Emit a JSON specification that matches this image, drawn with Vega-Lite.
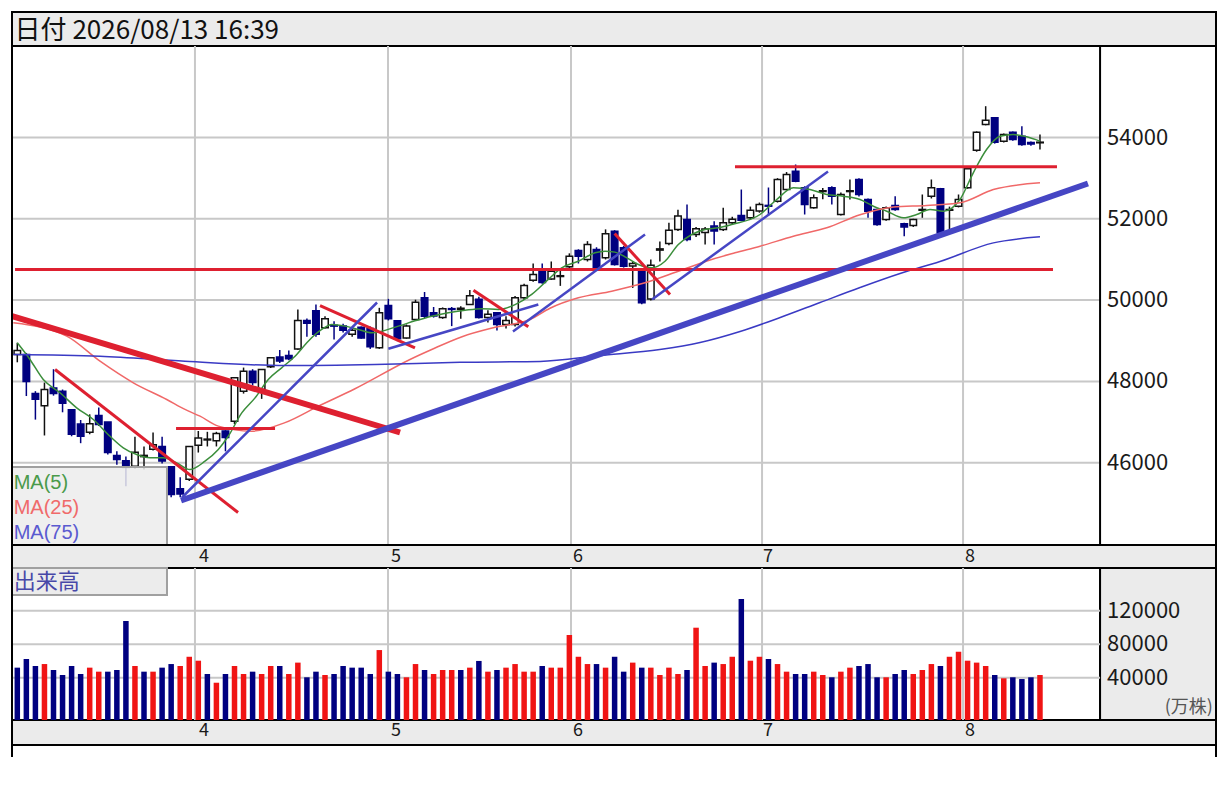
{
  "$schema": "https://vega.github.io/schema/vega-lite/v6.json",
  "description": "Daily candlestick chart with MA(5/25/75), hand-drawn trend lines and volume panel.",
  "width": 1204,
  "height": 745,
  "autosize": {"type": "none"},
  "padding": {"left": 12, "top": 12, "right": 12, "bottom": 30},
  "background": "white",
  "config": {"view": {"stroke": null}, "font": "Noto Sans CJK JP", "scale": {"continuousPadding": 0}},
  "datasets": {
    "bars": [
      {"i":0,"o":48660,"h":48950,"l":48470,"c":48760,"v":52000,"d":"dn"},
      {"i":1,"o":48660,"h":48700,"l":47640,"c":48000,"v":62300,"d":"dn"},
      {"i":2,"o":47700,"h":47760,"l":47060,"c":47560,"v":54000,"d":"dn"},
      {"i":3,"o":47400,"h":47970,"l":46670,"c":47800,"v":56300,"d":"up"},
      {"i":4,"o":47840,"h":48300,"l":47650,"c":47700,"v":49200,"d":"dn"},
      {"i":5,"o":47760,"h":47800,"l":47240,"c":47460,"v":43200,"d":"dn"},
      {"i":6,"o":47300,"h":47300,"l":46650,"c":46700,"v":54000,"d":"dn"},
      {"i":7,"o":46950,"h":47050,"l":46480,"c":46650,"v":44400,"d":"dn"},
      {"i":8,"o":46750,"h":47190,"l":46700,"c":46960,"v":52000,"d":"up"},
      {"i":9,"o":47160,"h":47360,"l":46900,"c":46940,"v":47200,"d":"up"},
      {"i":10,"o":47000,"h":47000,"l":46200,"c":46250,"v":47200,"d":"dn"},
      {"i":11,"o":46180,"h":46280,"l":45950,"c":46080,"v":49200,"d":"dn"},
      {"i":12,"o":46050,"h":46150,"l":45420,"c":45880,"v":107700,"d":"dn"},
      {"i":13,"o":45910,"h":46640,"l":45850,"c":46260,"v":54000,"d":"up"},
      {"i":14,"o":46150,"h":46400,"l":45830,"c":46180,"v":47200,"d":"dn"},
      {"i":15,"o":46330,"h":46740,"l":46300,"c":46440,"v":47200,"d":"up"},
      {"i":16,"o":46400,"h":46640,"l":45980,"c":46040,"v":52000,"d":"dn"},
      {"i":17,"o":45900,"h":45900,"l":45150,"c":45220,"v":56300,"d":"dn"},
      {"i":18,"o":45360,"h":45640,"l":45150,"c":45230,"v":54000,"d":"up"},
      {"i":19,"o":45590,"h":46400,"l":45550,"c":46400,"v":65000,"d":"up"},
      {"i":20,"o":46430,"h":46780,"l":46250,"c":46610,"v":60300,"d":"up"},
      {"i":21,"o":46560,"h":46760,"l":46400,"c":46580,"v":44400,"d":"dn"},
      {"i":22,"o":46540,"h":46760,"l":46400,"c":46720,"v":34000,"d":"up"},
      {"i":23,"o":46780,"h":46800,"l":46280,"c":46620,"v":44400,"d":"dn"},
      {"i":24,"o":47020,"h":48100,"l":46950,"c":48090,"v":54000,"d":"up"},
      {"i":25,"o":47760,"h":48340,"l":47700,"c":48250,"v":44400,"d":"up"},
      {"i":26,"o":48250,"h":48300,"l":47900,"c":47970,"v":47200,"d":"dn"},
      {"i":27,"o":47800,"h":48300,"l":47570,"c":48290,"v":44400,"d":"up"},
      {"i":28,"o":48360,"h":48600,"l":48330,"c":48580,"v":54000,"d":"up"},
      {"i":29,"o":48600,"h":48770,"l":48450,"c":48500,"v":54000,"d":"dn"},
      {"i":30,"o":48640,"h":48760,"l":48520,"c":48560,"v":44400,"d":"up"},
      {"i":31,"o":48800,"h":49770,"l":48780,"c":49500,"v":58000,"d":"up"},
      {"i":32,"o":49500,"h":49550,"l":49100,"c":49430,"v":40500,"d":"dn"},
      {"i":33,"o":49740,"h":49890,"l":49100,"c":49160,"v":47200,"d":"dn"},
      {"i":34,"o":49320,"h":49600,"l":49300,"c":49540,"v":43200,"d":"up"},
      {"i":35,"o":49380,"h":49480,"l":49030,"c":49360,"v":44400,"d":"dn"},
      {"i":36,"o":49360,"h":49420,"l":49200,"c":49260,"v":54000,"d":"dn"},
      {"i":37,"o":49160,"h":49300,"l":49100,"c":49260,"v":52000,"d":"dn"},
      {"i":38,"o":49330,"h":49350,"l":49050,"c":49070,"v":52000,"d":"dn"},
      {"i":39,"o":49300,"h":49350,"l":48800,"c":48850,"v":44400,"d":"dn"},
      {"i":40,"o":48830,"h":49810,"l":48800,"c":49690,"v":73000,"d":"up"},
      {"i":41,"o":49870,"h":50030,"l":49500,"c":49540,"v":47200,"d":"dn"},
      {"i":42,"o":49490,"h":49500,"l":48990,"c":49050,"v":44400,"d":"dn"},
      {"i":43,"o":49070,"h":49400,"l":49050,"c":49360,"v":40500,"d":"up"},
      {"i":44,"o":49520,"h":50010,"l":49500,"c":49950,"v":56300,"d":"up"},
      {"i":45,"o":50060,"h":50200,"l":49560,"c":49600,"v":49200,"d":"dn"},
      {"i":46,"o":49690,"h":49830,"l":49570,"c":49610,"v":44400,"d":"up"},
      {"i":47,"o":49570,"h":49820,"l":49540,"c":49790,"v":49200,"d":"up"},
      {"i":48,"o":49790,"h":49830,"l":49360,"c":49770,"v":49200,"d":"up"},
      {"i":49,"o":49770,"h":49850,"l":49540,"c":49800,"v":49200,"d":"dn"},
      {"i":50,"o":49890,"h":50250,"l":49880,"c":50110,"v":52000,"d":"up"},
      {"i":51,"o":50020,"h":50080,"l":49550,"c":49570,"v":60000,"d":"dn"},
      {"i":52,"o":49570,"h":49750,"l":49450,"c":49650,"v":47200,"d":"up"},
      {"i":53,"o":49690,"h":49700,"l":49250,"c":49400,"v":49200,"d":"dn"},
      {"i":54,"o":49400,"h":49600,"l":49300,"c":49500,"v":52000,"d":"up"},
      {"i":55,"o":49400,"h":50100,"l":49350,"c":50060,"v":56300,"d":"up"},
      {"i":56,"o":50060,"h":50400,"l":50000,"c":50360,"v":47200,"d":"up"},
      {"i":57,"o":50490,"h":50900,"l":50450,"c":50630,"v":47200,"d":"up"},
      {"i":58,"o":50750,"h":50900,"l":50400,"c":50430,"v":54000,"d":"dn"},
      {"i":59,"o":50520,"h":50950,"l":50500,"c":50710,"v":52000,"d":"up"},
      {"i":60,"o":50580,"h":50760,"l":50350,"c":50600,"v":52000,"d":"up"},
      {"i":61,"o":50820,"h":51150,"l":50780,"c":51080,"v":91000,"d":"up"},
      {"i":62,"o":51220,"h":51250,"l":50900,"c":51080,"v":65000,"d":"up"},
      {"i":63,"o":51000,"h":51450,"l":50950,"c":51370,"v":56300,"d":"up"},
      {"i":64,"o":51245,"h":51300,"l":50750,"c":50795,"v":56300,"d":"dn"},
      {"i":65,"o":51040,"h":51740,"l":51000,"c":51630,"v":52000,"d":"up"},
      {"i":66,"o":51695,"h":51720,"l":50850,"c":50876,"v":65000,"d":"dn"},
      {"i":67,"o":51285,"h":51330,"l":50800,"c":50835,"v":47200,"d":"dn"},
      {"i":68,"o":50840,"h":50950,"l":50300,"c":50900,"v":58000,"d":"up"},
      {"i":69,"o":50710,"h":50750,"l":49900,"c":49933,"v":52000,"d":"dn"},
      {"i":70,"o":50030,"h":51000,"l":49990,"c":50860,"v":52000,"d":"up"},
      {"i":71,"o":51230,"h":51440,"l":50950,"c":51260,"v":43200,"d":"up"},
      {"i":72,"o":51392,"h":51900,"l":51350,"c":51720,"v":52000,"d":"up"},
      {"i":73,"o":51737,"h":52220,"l":51700,"c":52070,"v":44400,"d":"up"},
      {"i":74,"o":51983,"h":52350,"l":51450,"c":51490,"v":49200,"d":"dn"},
      {"i":75,"o":51614,"h":51800,"l":51550,"c":51754,"v":99700,"d":"up"},
      {"i":76,"o":51660,"h":51800,"l":51370,"c":51750,"v":54000,"d":"up"},
      {"i":77,"o":51820,"h":51940,"l":51370,"c":51700,"v":58000,"d":"dn"},
      {"i":78,"o":51737,"h":52270,"l":51700,"c":51900,"v":56300,"d":"up"},
      {"i":79,"o":51900,"h":52050,"l":51850,"c":51990,"v":65000,"d":"up"},
      {"i":80,"o":52080,"h":52720,"l":51940,"c":51965,"v":134000,"d":"dn"},
      {"i":81,"o":52025,"h":52300,"l":51980,"c":52212,"v":60300,"d":"up"},
      {"i":82,"o":52190,"h":52400,"l":52150,"c":52350,"v":65000,"d":"up"},
      {"i":83,"o":52330,"h":52770,"l":52080,"c":52310,"v":62300,"d":"dn"},
      {"i":84,"o":52433,"h":53000,"l":52400,"c":52967,"v":56300,"d":"up"},
      {"i":85,"o":52720,"h":53150,"l":52700,"c":53090,"v":47200,"d":"up"},
      {"i":86,"o":53170,"h":53336,"l":52900,"c":52925,"v":44400,"d":"dn"},
      {"i":87,"o":52763,"h":52800,"l":52106,"c":52350,"v":44400,"d":"dn"},
      {"i":88,"o":52270,"h":52600,"l":52250,"c":52516,"v":47200,"d":"up"},
      {"i":89,"o":52670,"h":52760,"l":52480,"c":52690,"v":43200,"d":"up"},
      {"i":90,"o":52763,"h":52800,"l":52350,"c":52556,"v":40500,"d":"dn"},
      {"i":91,"o":52106,"h":52650,"l":52080,"c":52598,"v":47200,"d":"up"},
      {"i":92,"o":52670,"h":52967,"l":52475,"c":52690,"v":52000,"d":"up"},
      {"i":93,"o":52967,"h":53000,"l":52550,"c":52598,"v":54000,"d":"dn"},
      {"i":94,"o":52475,"h":52500,"l":52025,"c":52187,"v":56300,"d":"dn"},
      {"i":95,"o":52229,"h":52250,"l":51830,"c":51860,"v":40500,"d":"dn"},
      {"i":96,"o":51983,"h":52300,"l":51950,"c":52270,"v":40500,"d":"up"},
      {"i":97,"o":52327,"h":52556,"l":52200,"c":52229,"v":44400,"d":"dn"},
      {"i":98,"o":51880,"h":51900,"l":51570,"c":51800,"v":49200,"d":"dn"},
      {"i":99,"o":51835,"h":52000,"l":51800,"c":51983,"v":44400,"d":"up"},
      {"i":100,"o":52210,"h":52598,"l":52025,"c":52230,"v":49200,"d":"up"},
      {"i":101,"o":52556,"h":52967,"l":52500,"c":52763,"v":56300,"d":"up"},
      {"i":102,"o":52738,"h":52760,"l":51600,"c":51656,"v":54000,"d":"dn"},
      {"i":103,"o":52210,"h":52300,"l":51737,"c":52230,"v":65000,"d":"up"},
      {"i":104,"o":52310,"h":52598,"l":52280,"c":52475,"v":71000,"d":"up"},
      {"i":105,"o":52763,"h":53250,"l":52740,"c":53230,"v":60300,"d":"up"},
      {"i":106,"o":53688,"h":54150,"l":53650,"c":54130,"v":58000,"d":"up"},
      {"i":107,"o":54320,"h":54770,"l":54300,"c":54425,"v":54000,"d":"up"},
      {"i":108,"o":54485,"h":54500,"l":53850,"c":53885,"v":43200,"d":"dn"},
      {"i":109,"o":53910,"h":54100,"l":53880,"c":54074,"v":39300,"d":"up"},
      {"i":110,"o":54130,"h":54150,"l":53920,"c":53950,"v":40500,"d":"dn"},
      {"i":111,"o":54032,"h":54278,"l":53800,"c":53828,"v":38400,"d":"dn"},
      {"i":112,"o":53880,"h":53900,"l":53800,"c":53840,"v":40500,"d":"dn"},
      {"i":113,"o":53870,"h":54074,"l":53705,"c":53885,"v":43200,"d":"up"}
    ],
    "ma": [
      {"s":"MA5","i":0,"p":48950},{"s":"MA5","i":1.4,"p":48540},{"s":"MA5","i":2.87,"p":48047},
      {"s":"MA5","i":4.72,"p":47720},{"s":"MA5","i":6.56,"p":47350},{"s":"MA5","i":8.4,"p":47063},
      {"s":"MA5","i":10.24,"p":46650},{"s":"MA5","i":11.71,"p":46366},{"s":"MA5","i":13.19,"p":46200},
      {"s":"MA5","i":14.66,"p":46120},{"s":"MA5","i":16.1,"p":46120},{"s":"MA5","i":17.61,"p":45997},
      {"s":"MA5","i":19.08,"p":45833},{"s":"MA5","i":20.74,"p":46037},{"s":"MA5","i":22.21,"p":46325},
      {"s":"MA5","i":23.31,"p":46650},{"s":"MA5","i":24.8,"p":47225},{"s":"MA5","i":26.27,"p":47595},
      {"s":"MA5","i":27.73,"p":48047},{"s":"MA5","i":29.21,"p":48334},{"s":"MA5","i":30.69,"p":48620},
      {"s":"MA5","i":32.15,"p":48990},{"s":"MA5","i":33.64,"p":49277},{"s":"MA5","i":34.74,"p":49400},
      {"s":"MA5","i":36.21,"p":49360},{"s":"MA5","i":37.68,"p":49277},{"s":"MA5","i":39.16,"p":49196},
      {"s":"MA5","i":42.1,"p":49360},{"s":"MA5","i":43.94,"p":49490},{"s":"MA5","i":45.79,"p":49605},
      {"s":"MA5","i":47.62,"p":49690},{"s":"MA5","i":49.47,"p":49750},{"s":"MA5","i":51.31,"p":49790},
      {"s":"MA5","i":53.15,"p":49770},{"s":"MA5","i":55.0,"p":49890},{"s":"MA5","i":56.84,"p":50140},
      {"s":"MA5","i":58.67,"p":50510},{"s":"MA5","i":60.15,"p":50795},{"s":"MA5","i":61.99,"p":50957},
      {"s":"MA5","i":63.83,"p":51163},{"s":"MA5","i":64.94,"p":51203},{"s":"MA5","i":66.04,"p":51180},
      {"s":"MA5","i":67.15,"p":51065},{"s":"MA5","i":68.62,"p":50876},{"s":"MA5","i":70.1,"p":50795},
      {"s":"MA5","i":71.57,"p":50957},{"s":"MA5","i":73.04,"p":51368},{"s":"MA5","i":74.52,"p":51614},
      {"s":"MA5","i":75.99,"p":51737},{"s":"MA5","i":77.46,"p":51778},{"s":"MA5","i":78.94,"p":51860},
      {"s":"MA5","i":82.07,"p":52106},{"s":"MA5","i":83.91,"p":52475},{"s":"MA5","i":85.75,"p":52763},
      {"s":"MA5","i":87.59,"p":52720},{"s":"MA5","i":89.44,"p":52598},{"s":"MA5","i":91.27,"p":52556},
      {"s":"MA5","i":93.12,"p":52475},{"s":"MA5","i":94.59,"p":52310},{"s":"MA5","i":96.07,"p":52187},
      {"s":"MA5","i":97.9,"p":52025},{"s":"MA5","i":99.38,"p":52106},{"s":"MA5","i":100.85,"p":52229},
      {"s":"MA5","i":102.32,"p":52187},{"s":"MA5","i":104.16,"p":52475},{"s":"MA5","i":105.63,"p":53131},
      {"s":"MA5","i":107.1,"p":53705},{"s":"MA5","i":108.59,"p":54032},{"s":"MA5","i":110.06,"p":54074},
      {"s":"MA5","i":111.54,"p":54017},{"s":"MA5","i":113.0,"p":53910},
      {"s":"MA25","i":-0.44,"p":49440},{"s":"MA25","i":5.46,"p":49113},{"s":"MA25","i":9.14,"p":48497},
      {"s":"MA25","i":12.82,"p":47966},{"s":"MA25","i":16.51,"p":47555},{"s":"MA25","i":18.53,"p":47310},
      {"s":"MA25","i":20.19,"p":47144},{"s":"MA25","i":22.21,"p":46900},{"s":"MA25","i":25.9,"p":46776},
      {"s":"MA25","i":29.58,"p":46985},{"s":"MA25","i":33.26,"p":47390},{"s":"MA25","i":37.31,"p":47820},
      {"s":"MA25","i":43.39,"p":48540},{"s":"MA25","i":45.79,"p":48785},{"s":"MA25","i":49.14,"p":49100},
      {"s":"MA25","i":52.79,"p":49330},{"s":"MA25","i":56.65,"p":49523},{"s":"MA25","i":58.86,"p":49800},
      {"s":"MA25","i":61.99,"p":50057},{"s":"MA25","i":65.68,"p":50220},{"s":"MA25","i":69.36,"p":50425},
      {"s":"MA25","i":73.04,"p":50710},{"s":"MA25","i":76.73,"p":51000},{"s":"MA25","i":79.3,"p":51163},
      {"s":"MA25","i":82.07,"p":51326},{"s":"MA25","i":85.75,"p":51572},{"s":"MA25","i":89.44,"p":51778},
      {"s":"MA25","i":93.12,"p":52100},{"s":"MA25","i":96.8,"p":52290},{"s":"MA25","i":100.49,"p":52327},
      {"s":"MA25","i":104.16,"p":52393},{"s":"MA25","i":107.85,"p":52720},{"s":"MA25","i":113.0,"p":52886},
      {"s":"MA75","i":-0.44,"p":48662},{"s":"MA75","i":9.14,"p":48620},{"s":"MA75","i":18.53,"p":48497},
      {"s":"MA75","i":29.58,"p":48390},{"s":"MA75","i":39.52,"p":48416},{"s":"MA75","i":48.92,"p":48470},
      {"s":"MA75","i":57.76,"p":48490},{"s":"MA75","i":64.39,"p":48637},{"s":"MA75","i":71.0,"p":48785},
      {"s":"MA75","i":75.44,"p":48957},{"s":"MA75","i":79.86,"p":49228},{"s":"MA75","i":84.3,"p":49572},
      {"s":"MA75","i":88.7,"p":49941},{"s":"MA75","i":93.12,"p":50310},{"s":"MA75","i":97.54,"p":50655},
      {"s":"MA75","i":101.95,"p":50950},{"s":"MA75","i":107.85,"p":51408},{"s":"MA75","i":113.0,"p":51557}
    ],
    "trend": [
      {"id":"r1","k":"rh","i":-0.586,"p":49604},{"id":"r1","k":"rh","i":42.29,"p":46743},
      {"id":"r2","k":"rl","i":4.17,"p":48293},{"id":"r2","k":"rl","i":24.39,"p":44775},
      {"id":"r3","k":"rl","i":17.54,"p":46841},{"id":"r3","k":"rl","i":28.48,"p":46841},
      {"id":"r4","k":"rl","i":33.45,"p":49867},{"id":"r4","k":"rl","i":43.94,"p":48827},
      {"id":"r5","k":"rl","i":50.4,"p":50244},{"id":"r5","k":"rl","i":56.46,"p":49343},
      {"id":"r6","k":"rl","i":66.0,"p":51638},{"id":"r6","k":"rl","i":72.12,"p":50138},
      {"id":"r7","k":"rl","i":79.3,"p":53279},{"id":"r7","k":"rl","i":114.88,"p":53279},
      {"id":"r8","k":"rl","i":-0.25,"p":50753},{"id":"r8","k":"rl","i":114.44,"p":50753},
      {"id":"b1","k":"bh","i":18.09,"p":45070},{"id":"b1","k":"bh","i":118.3,"p":52868},
      {"id":"b2","k":"bl","i":18.2,"p":45144},{"id":"b2","k":"bl","i":39.75,"p":49941},
      {"id":"b3","k":"bl","i":41.0,"p":48802},{"id":"b3","k":"bl","i":57.57,"p":49892},
      {"id":"b4","k":"bl","i":54.77,"p":49228},{"id":"b4","k":"bl","i":69.36,"p":51614},
      {"id":"b5","k":"bl","i":70.13,"p":50015},{"id":"b5","k":"bl","i":89.58,"p":53164}
    ],
    "months": [
      {"m":"4","g":19.63,"lx":20.63},
      {"m":"5","g":40.96,"lx":41.85},
      {"m":"6","g":61.18,"lx":61.96},
      {"m":"7","g":82.29,"lx":82.95},
      {"m":"8","g":104.5,"lx":105.27}
    ],
    "pticks": [{"p": 46000}, {"p": 48000}, {"p": 50000}, {"p": 52000}, {"p": 54000}],
    "vticks": [{"v": 40000}, {"v": 80000}, {"v": 120000}]
  },
  "resolve": {"scale": {"y": "independent", "color": "independent"}},
  "layer": [
    {
      "layer": [
        {
          "data": {"values": [{}]},
          "mark": {"type": "rect", "fill": "#ebebeb", "stroke": "#000000", "strokeWidth": 2},
          "encoding": {
            "x": {"datum": -0.586, "type": "quantitative", "scale": {"domain": [-0.586, 132.45], "nice": false, "zero": false, "padding": 0}, "axis": null},
            "x2": {"datum": 132.45},
            "y": {"datum": 57087, "type": "quantitative", "scale": {"domain": [43975.5, 56250.9], "range": [533, 34], "nice": false, "zero": false}, "axis": null},
            "y2": {"datum": 56251}
          }
        },
        {
          "data": {"values": [{}]},
          "mark": {"type": "rect", "fill": "#ffffff", "stroke": "#000000", "strokeWidth": 2},
          "encoding": {
            "x": {"datum": -0.586, "type": "quantitative", "scale": {"domain": [-0.586, 132.45], "nice": false, "zero": false, "padding": 0}, "axis": null},
            "x2": {"datum": 132.45},
            "y": {"datum": 56251, "type": "quantitative", "scale": {"domain": [43975.5, 56250.9], "range": [533, 34], "nice": false, "zero": false}, "axis": null},
            "y2": {"datum": 43975.5}
          }
        },
        {
          "data": {"name": "pticks"},
          "mark": {"type": "rule", "color": "#c8c8c8", "strokeWidth": 2},
          "encoding": {
            "x": {"datum": -0.586, "type": "quantitative", "scale": {"domain": [-0.586, 132.45], "nice": false, "zero": false, "padding": 0}, "axis": null},
            "x2": {"datum": 119.64},
            "y": {"field": "p", "type": "quantitative", "scale": {"domain": [43975.5, 56250.9], "range": [533, 34], "nice": false, "zero": false}, "axis": null}
          }
        },
        {
          "data": {"name": "months"},
          "mark": {"type": "rule", "color": "#c8c8c8", "strokeWidth": 2},
          "encoding": {
            "x": {"field": "g", "type": "quantitative", "scale": {"domain": [-0.586, 132.45], "nice": false, "zero": false, "padding": 0}, "axis": null},
            "y": {"datum": 56251, "type": "quantitative", "scale": {"domain": [43975.5, 56250.9], "range": [533, 34], "nice": false, "zero": false}, "axis": null},
            "y2": {"datum": 43975.5}
          }
        },
        {
          "data": {"name": "bars"},
          "mark": {"type": "rule", "strokeWidth": 1.5},
          "encoding": {
            "x": {"field": "i", "type": "quantitative", "scale": {"domain": [-0.586, 132.45], "nice": false, "zero": false, "padding": 0}, "axis": null},
            "y": {"field": "l", "type": "quantitative", "scale": {"domain": [43975.5, 56250.9], "range": [533, 34], "nice": false, "zero": false}, "axis": null},
            "y2": {"field": "h"},
            "color": {"condition": {"test": "datum.c >= datum.o", "value": "#111111"}, "value": "#000080"}
          }
        },
        {
          "data": {"name": "bars"},
          "mark": {"type": "bar", "size": 6.5, "strokeWidth": 1.5},
          "encoding": {
            "x": {"field": "i", "type": "quantitative", "scale": {"domain": [-0.586, 132.45], "nice": false, "zero": false, "padding": 0}, "axis": null},
            "y": {"field": "o", "type": "quantitative", "scale": {"domain": [43975.5, 56250.9], "range": [533, 34], "nice": false, "zero": false}, "axis": null},
            "y2": {"field": "c"},
            "fill": {"condition": {"test": "datum.c >= datum.o", "value": "#ffffff"}, "value": "#000080"},
            "stroke": {"condition": {"test": "datum.c >= datum.o", "value": "#111111"}, "value": "#000080"}
          }
        },
        {
          "data": {"name": "ma"},
          "mark": {"type": "line", "strokeWidth": 1.5, "interpolate": "monotone"},
          "encoding": {
            "x": {"field": "i", "type": "quantitative", "scale": {"domain": [-0.586, 132.45], "nice": false, "zero": false, "padding": 0}, "axis": null},
            "y": {"field": "p", "type": "quantitative", "scale": {"domain": [43975.5, 56250.9], "range": [533, 34], "nice": false, "zero": false}, "axis": null},
            "color": {"field": "s", "type": "nominal", "scale": {"domain": ["MA5", "MA25", "MA75"], "range": ["#3b8e3b", "#f06868", "#3a3ac4"]}, "legend": null}
          }
        },
        {
          "data": {"name": "trend"},
          "transform": [{"filter": {"field": "k", "equal": "rh"}}],
          "mark": {"type": "line", "color": "#de2030", "strokeWidth": 6},
          "encoding": {
            "x": {"field": "i", "type": "quantitative", "scale": {"domain": [-0.586, 132.45], "nice": false, "zero": false, "padding": 0}, "axis": null},
            "y": {"field": "p", "type": "quantitative", "scale": {"domain": [43975.5, 56250.9], "range": [533, 34], "nice": false, "zero": false}, "axis": null},
            "detail": {"field": "id"}
          }
        },
        {
          "data": {"name": "trend"},
          "transform": [{"filter": {"field": "k", "equal": "rl"}}],
          "mark": {"type": "line", "color": "#de2030", "strokeWidth": 3},
          "encoding": {
            "x": {"field": "i", "type": "quantitative", "scale": {"domain": [-0.586, 132.45], "nice": false, "zero": false, "padding": 0}, "axis": null},
            "y": {"field": "p", "type": "quantitative", "scale": {"domain": [43975.5, 56250.9], "range": [533, 34], "nice": false, "zero": false}, "axis": null},
            "detail": {"field": "id"}
          }
        },
        {
          "data": {"name": "trend"},
          "transform": [{"filter": {"field": "k", "equal": "bl"}}],
          "mark": {"type": "line", "color": "#4646c4", "strokeWidth": 2.5},
          "encoding": {
            "x": {"field": "i", "type": "quantitative", "scale": {"domain": [-0.586, 132.45], "nice": false, "zero": false, "padding": 0}, "axis": null},
            "y": {"field": "p", "type": "quantitative", "scale": {"domain": [43975.5, 56250.9], "range": [533, 34], "nice": false, "zero": false}, "axis": null},
            "detail": {"field": "id"}
          }
        },
        {
          "data": {"name": "trend"},
          "transform": [{"filter": {"field": "k", "equal": "bh"}}],
          "mark": {"type": "line", "color": "#4646c4", "strokeWidth": 6},
          "encoding": {
            "x": {"field": "i", "type": "quantitative", "scale": {"domain": [-0.586, 132.45], "nice": false, "zero": false, "padding": 0}, "axis": null},
            "y": {"field": "p", "type": "quantitative", "scale": {"domain": [43975.5, 56250.9], "range": [533, 34], "nice": false, "zero": false}, "axis": null},
            "detail": {"field": "id"}
          }
        },
        {
          "data": {"values": [{}]},
          "mark": {"type": "rule", "color": "#000000", "strokeWidth": 2},
          "encoding": {
            "x": {"datum": 119.64, "type": "quantitative", "scale": {"domain": [-0.586, 132.45], "nice": false, "zero": false, "padding": 0}, "axis": null},
            "y": {"datum": 56251, "type": "quantitative", "scale": {"domain": [43975.5, 56250.9], "range": [533, 34], "nice": false, "zero": false}, "axis": null},
            "y2": {"datum": 43975.5}
          }
        },
        {
          "data": {"name": "pticks"},
          "mark": {"type": "text", "align": "left", "baseline": "middle", "dx": 7, "fontSize": 22, "color": "#1a1a1a"},
          "encoding": {
            "x": {"datum": 119.64, "type": "quantitative", "scale": {"domain": [-0.586, 132.45], "nice": false, "zero": false, "padding": 0}, "axis": null},
            "y": {"field": "p", "type": "quantitative", "scale": {"domain": [43975.5, 56250.9], "range": [533, 34], "nice": false, "zero": false}, "axis": null},
            "text": {"field": "p", "type": "quantitative", "format": "d"}
          }
        },
        {
          "data": {"values": [{}]},
          "mark": {"type": "rect", "fill": "#ececec", "fillOpacity": 0.85, "stroke": "#a0a0a0", "strokeWidth": 2},
          "encoding": {
            "x": {"datum": -0.586, "type": "quantitative", "scale": {"domain": [-0.586, 132.45], "nice": false, "zero": false, "padding": 0}, "axis": null},
            "x2": {"datum": 16.54},
            "y": {"datum": 45894, "type": "quantitative", "scale": {"domain": [43975.5, 56250.9], "range": [533, 34], "nice": false, "zero": false}, "axis": null},
            "y2": {"datum": 43975.5}
          }
        },
        {
          "data": {"values": [{}]},
          "mark": {"type": "text", "align": "left", "baseline": "middle", "font": "Liberation Sans", "fontSize": 20, "color": "#4a9a4a", "text": "MA(5)"},
          "encoding": {
            "x": {"datum": -0.4, "type": "quantitative", "scale": {"domain": [-0.586, 132.45], "nice": false, "zero": false, "padding": 0}, "axis": null},
            "y": {"datum": 45500, "type": "quantitative", "scale": {"domain": [43975.5, 56250.9], "range": [533, 34], "nice": false, "zero": false}, "axis": null}
          }
        },
        {
          "data": {"values": [{}]},
          "mark": {"type": "text", "align": "left", "baseline": "middle", "font": "Liberation Sans", "fontSize": 20, "color": "#f06a6a", "text": "MA(25)"},
          "encoding": {
            "x": {"datum": -0.4, "type": "quantitative", "scale": {"domain": [-0.586, 132.45], "nice": false, "zero": false, "padding": 0}, "axis": null},
            "y": {"datum": 44885, "type": "quantitative", "scale": {"domain": [43975.5, 56250.9], "range": [533, 34], "nice": false, "zero": false}, "axis": null}
          }
        },
        {
          "data": {"values": [{}]},
          "mark": {"type": "text", "align": "left", "baseline": "middle", "font": "Liberation Sans", "fontSize": 20, "color": "#5a5ad0", "text": "MA(75)"},
          "encoding": {
            "x": {"datum": -0.4, "type": "quantitative", "scale": {"domain": [-0.586, 132.45], "nice": false, "zero": false, "padding": 0}, "axis": null},
            "y": {"datum": 44270, "type": "quantitative", "scale": {"domain": [43975.5, 56250.9], "range": [533, 34], "nice": false, "zero": false}, "axis": null}
          }
        },
        {
          "data": {"values": [{}]},
          "mark": {"type": "text", "align": "left", "baseline": "middle", "fontSize": 26, "color": "#111111", "text": "日付 2026/08/13 16:39"},
          "encoding": {
            "x": {"datum": -0.3, "type": "quantitative", "scale": {"domain": [-0.586, 132.45], "nice": false, "zero": false, "padding": 0}, "axis": null},
            "y": {"datum": 56620, "type": "quantitative", "scale": {"domain": [43975.5, 56250.9], "range": [533, 34], "nice": false, "zero": false}, "axis": null}
          }
        }
      ]
    },
    {
      "layer": [
        {
          "data": {"values": [{}]},
          "mark": {"type": "rect", "fill": "#ebebeb", "stroke": "#000000", "strokeWidth": 2},
          "encoding": {
            "x": {"datum": -0.586, "type": "quantitative", "scale": {"domain": [-0.586, 132.45], "nice": false, "zero": false, "padding": 0}, "axis": null},
            "x2": {"datum": 132.45},
            "y": {"datum": 198443, "type": "quantitative", "scale": {"domain": [-10508, 170981], "range": [708, 556], "nice": false, "zero": false}, "axis": null},
            "y2": {"datum": 170981}
          }
        },
        {
          "data": {"values": [{}]},
          "mark": {"type": "rect", "fill": "#ffffff", "stroke": "#000000", "strokeWidth": 2},
          "encoding": {
            "x": {"datum": -0.586, "type": "quantitative", "scale": {"domain": [-0.586, 132.45], "nice": false, "zero": false, "padding": 0}, "axis": null},
            "x2": {"datum": 119.64},
            "y": {"datum": 170981, "type": "quantitative", "scale": {"domain": [-10508, 170981], "range": [708, 556], "nice": false, "zero": false}, "axis": null},
            "y2": {"datum": -10508}
          }
        },
        {
          "data": {"values": [{}]},
          "mark": {"type": "rect", "fill": "#ebebeb", "stroke": "#000000", "strokeWidth": 2},
          "encoding": {
            "x": {"datum": 119.64, "type": "quantitative", "scale": {"domain": [-0.586, 132.45], "nice": false, "zero": false, "padding": 0}, "axis": null},
            "x2": {"datum": 132.45},
            "y": {"datum": 170981, "type": "quantitative", "scale": {"domain": [-10508, 170981], "range": [708, 556], "nice": false, "zero": false}, "axis": null},
            "y2": {"datum": -10508}
          }
        },
        {
          "data": {"values": [{}]},
          "mark": {"type": "rect", "fill": "#ebebeb", "stroke": "#000000", "strokeWidth": 2},
          "encoding": {
            "x": {"datum": -0.586, "type": "quantitative", "scale": {"domain": [-0.586, 132.45], "nice": false, "zero": false, "padding": 0}, "axis": null},
            "x2": {"datum": 132.45},
            "y": {"datum": -10508, "type": "quantitative", "scale": {"domain": [-10508, 170981], "range": [708, 556], "nice": false, "zero": false}, "axis": null},
            "y2": {"datum": -40357}
          }
        },
        {
          "data": {"name": "vticks"},
          "mark": {"type": "rule", "color": "#c8c8c8", "strokeWidth": 2},
          "encoding": {
            "x": {"datum": -0.586, "type": "quantitative", "scale": {"domain": [-0.586, 132.45], "nice": false, "zero": false, "padding": 0}, "axis": null},
            "x2": {"datum": 119.64},
            "y": {"field": "v", "type": "quantitative", "scale": {"domain": [-10508, 170981], "range": [708, 556], "nice": false, "zero": false}, "axis": null}
          }
        },
        {
          "data": {"name": "months"},
          "mark": {"type": "rule", "color": "#c8c8c8", "strokeWidth": 2},
          "encoding": {
            "x": {"field": "g", "type": "quantitative", "scale": {"domain": [-0.586, 132.45], "nice": false, "zero": false, "padding": 0}, "axis": null},
            "y": {"datum": 170981, "type": "quantitative", "scale": {"domain": [-10508, 170981], "range": [708, 556], "nice": false, "zero": false}, "axis": null},
            "y2": {"datum": -10508}
          }
        },
        {
          "data": {"name": "bars"},
          "mark": {"type": "bar", "size": 5.5},
          "encoding": {
            "x": {"field": "i", "type": "quantitative", "scale": {"domain": [-0.586, 132.45], "nice": false, "zero": false, "padding": 0}, "axis": null},
            "y": {"field": "v", "type": "quantitative", "scale": {"domain": [-10508, 170981], "range": [708, 556], "nice": false, "zero": false}, "axis": null},
            "y2": {"datum": -10508},
            "color": {"field": "d", "type": "nominal", "scale": {"domain": ["up", "dn"], "range": ["#f01414", "#000080"]}, "legend": null}
          }
        },
        {
          "data": {"name": "vticks"},
          "mark": {"type": "text", "align": "left", "baseline": "middle", "dx": 7, "fontSize": 22, "color": "#1a1a1a"},
          "encoding": {
            "x": {"datum": 119.64, "type": "quantitative", "scale": {"domain": [-0.586, 132.45], "nice": false, "zero": false, "padding": 0}, "axis": null},
            "y": {"field": "v", "type": "quantitative", "scale": {"domain": [-10508, 170981], "range": [708, 556], "nice": false, "zero": false}, "axis": null},
            "text": {"field": "v", "type": "quantitative", "format": "d"}
          }
        },
        {
          "data": {"values": [{}]},
          "mark": {"type": "rect", "fill": "#ececec", "stroke": "#a0a0a0", "strokeWidth": 2},
          "encoding": {
            "x": {"datum": -0.586, "type": "quantitative", "scale": {"domain": [-0.586, 132.45], "nice": false, "zero": false, "padding": 0}, "axis": null},
            "x2": {"datum": 16.54},
            "y": {"datum": 170981, "type": "quantitative", "scale": {"domain": [-10508, 170981], "range": [708, 556], "nice": false, "zero": false}, "axis": null},
            "y2": {"datum": 138743}
          }
        },
        {
          "data": {"values": [{}]},
          "mark": {"type": "text", "align": "left", "baseline": "middle", "fontSize": 22, "color": "#4848a8", "text": "出来高"},
          "encoding": {
            "x": {"datum": -0.4, "type": "quantitative", "scale": {"domain": [-0.586, 132.45], "nice": false, "zero": false, "padding": 0}, "axis": null},
            "y": {"datum": 154265, "type": "quantitative", "scale": {"domain": [-10508, 170981], "range": [708, 556], "nice": false, "zero": false}, "axis": null}
          }
        },
        {
          "data": {"name": "months"},
          "mark": {"type": "text", "align": "center", "baseline": "middle", "fontSize": 18, "color": "#1a1a1a"},
          "encoding": {
            "x": {"field": "lx", "type": "quantitative", "scale": {"domain": [-0.586, 132.45], "nice": false, "zero": false, "padding": 0}, "axis": null},
            "y": {"datum": 184115, "type": "quantitative", "scale": {"domain": [-10508, 170981], "range": [708, 556], "nice": false, "zero": false}, "axis": null},
            "text": {"field": "m"}
          }
        },
        {
          "data": {"name": "months"},
          "mark": {"type": "text", "align": "center", "baseline": "middle", "fontSize": 18, "color": "#1a1a1a"},
          "encoding": {
            "x": {"field": "lx", "type": "quantitative", "scale": {"domain": [-0.586, 132.45], "nice": false, "zero": false, "padding": 0}, "axis": null},
            "y": {"datum": -23641, "type": "quantitative", "scale": {"domain": [-10508, 170981], "range": [708, 556], "nice": false, "zero": false}, "axis": null},
            "text": {"field": "m"}
          }
        },
        {
          "data": {"values": [{}]},
          "mark": {"type": "text", "align": "right", "baseline": "middle", "fontSize": 18, "color": "#555555", "text": "(万株)"},
          "encoding": {
            "x": {"datum": 132.1, "type": "quantitative", "scale": {"domain": [-0.586, 132.45], "nice": false, "zero": false, "padding": 0}, "axis": null},
            "y": {"datum": 3820, "type": "quantitative", "scale": {"domain": [-10508, 170981], "range": [708, 556], "nice": false, "zero": false}, "axis": null}
          }
        },
        {
          "data": {"values": [{}]},
          "mark": {"type": "rule", "color": "#000000", "strokeWidth": 2},
          "encoding": {
            "x": {"datum": -0.586, "type": "quantitative", "scale": {"domain": [-0.586, 132.45], "nice": false, "zero": false, "padding": 0}, "axis": null},
            "y": {"datum": 834845, "type": "quantitative", "scale": {"domain": [-10508, 170981], "range": [708, 556], "nice": false, "zero": false}, "axis": null},
            "y2": {"datum": -54685}
          }
        },
        {
          "data": {"values": [{}]},
          "mark": {"type": "rule", "color": "#000000", "strokeWidth": 2},
          "encoding": {
            "x": {"datum": 132.45, "type": "quantitative", "scale": {"domain": [-0.586, 132.45], "nice": false, "zero": false, "padding": 0}, "axis": null},
            "y": {"datum": 834845, "type": "quantitative", "scale": {"domain": [-10508, 170981], "range": [708, 556], "nice": false, "zero": false}, "axis": null},
            "y2": {"datum": -54685}
          }
        }
      ]
    }
  ]
}
